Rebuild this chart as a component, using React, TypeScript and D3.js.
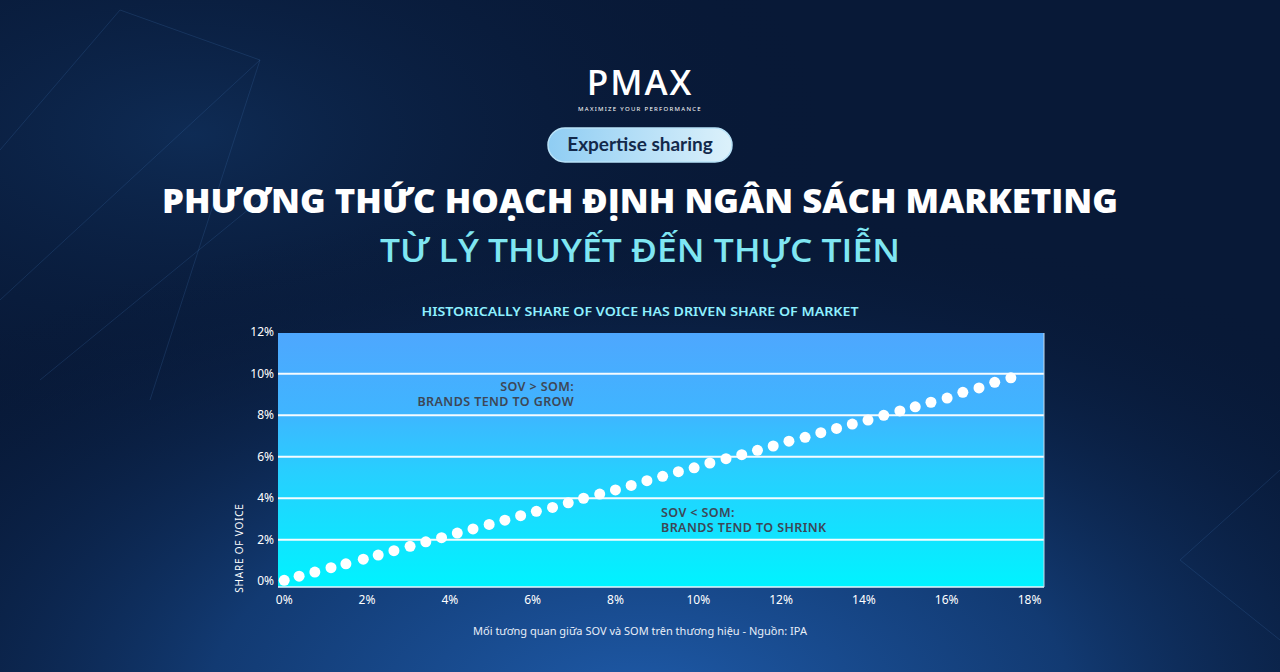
import React from "react";
import * as d3 from "d3";

// share of market (x, %) and share of voice (y, %)
const marketShare = [
  0, 0.36, 0.74, 1.13, 1.49, 1.91, 2.27, 2.65, 3.04, 3.42, 3.8, 4.18, 4.56, 4.95, 5.33, 5.71,
  6.09, 6.48, 6.86, 7.23, 7.62, 8.0, 8.38, 8.76, 9.14, 9.52, 9.9, 10.28, 10.67, 11.05, 11.43,
  11.81, 12.19, 12.58, 12.96, 13.34, 13.72, 14.1, 14.48, 14.87, 15.24, 15.62, 16.01, 16.39,
  16.78, 17.16, 17.55,
];
const voiceShare = [
  0.04, 0.24, 0.44, 0.65, 0.84, 1.06, 1.26, 1.47, 1.68, 1.9, 2.1, 2.32, 2.52, 2.74, 2.94, 3.16,
  3.37, 3.56, 3.78, 4.0, 4.2, 4.4, 4.62, 4.85, 5.06, 5.28, 5.47, 5.7, 5.91, 6.1, 6.31, 6.52,
  6.75, 6.94, 7.16, 7.37, 7.58, 7.77, 8.0, 8.21, 8.41, 8.63, 8.83, 9.11, 9.32, 9.59, 9.81,
];
const xTicks = [0, 2, 4, 6, 8, 10, 12, 14, 16, 18];
const yTicks = [0, 2, 4, 6, 8, 10, 12];
const gridValues = [2, 4, 6, 8, 10];

const W = 1280;
const H = 672;
const plot = { left: 278, right: 1044, top: 333, bottom: 587 };

const App: React.FC = () => {
  const x = d3.scaleLinear().domain([-0.15, 18.35]).range([plot.left, plot.right]);
  const y = d3.scaleLinear().domain([-0.28, 11.97]).range([plot.bottom, plot.top]);
  const fmt = (v: number) => `${v}%`;

  const points = marketShare.map((m, i) => ({ m, v: voiceShare[i] }));

  return (
    <svg
      width={W}
      height={H}
      style={{ position: "absolute", left: 0, top: 0, display: "block" }}
      fontFamily="'Noto Sans', sans-serif"
    >
      <defs>
        <radialGradient id="bgGlow" cx="0.5" cy="1.05" r="0.75">
          <stop offset="0" stopColor="#1e5aa8" />
          <stop offset="0.45" stopColor="#123a72" />
          <stop offset="1" stopColor="#071633" stopOpacity="0" />
        </radialGradient>
        <radialGradient id="topGlow" cx="0.15" cy="0.2" r="0.5">
          <stop offset="0" stopColor="#10305c" stopOpacity="0.8" />
          <stop offset="1" stopColor="#071633" stopOpacity="0" />
        </radialGradient>
        <linearGradient id="plotFill" x1="0" y1="0" x2="0" y2="1">
          <stop offset="0" stopColor="#4ea7fe" />
          <stop offset="0.3" stopColor="#40b4ff" />
          <stop offset="0.55" stopColor="#27cfff" />
          <stop offset="1" stopColor="#00f3ff" />
        </linearGradient>
        <linearGradient id="badgeFill" x1="0" y1="0" x2="1" y2="0">
          <stop offset="0" stopColor="#8fcdf3" />
          <stop offset="1" stopColor="#dcf1fb" />
        </linearGradient>
      </defs>

      {/* background */}
      <rect width={W} height={H} fill="#081937" />
      <rect width={W} height={H} fill="url(#topGlow)" />
      <rect width={W} height={H} fill="url(#bgGlow)" />
      <g stroke="#3a6aa8" strokeOpacity={0.25} strokeWidth={1}>
        <line x1={0} y1={150} x2={120} y2={10} />
        <line x1={120} y1={10} x2={260} y2={60} />
        <line x1={260} y1={60} x2={150} y2={400} />
        <line x1={0} y1={300} x2={260} y2={60} />
        <line x1={40} y1={380} x2={260} y2={200} />
        <line x1={1280} y1={470} x2={1180} y2={560} />
        <line x1={1180} y1={560} x2={1280} y2={640} />
      </g>

      {/* logo */}
      <text x={640} y={95} textAnchor="middle" fill="#ffffff" fontSize={35} fontWeight={600}
        fontFamily="'Open Sans', sans-serif" letterSpacing={2}>
        PMAX
      </text>
      <text x={640} y={111} textAnchor="middle" fill="#ffffff" fontSize={6} letterSpacing={1.3}>
        MAXIMIZE YOUR PERFORMANCE
      </text>

      {/* badge */}
      <rect x={548} y={128} width={184} height={34} rx={17} fill="url(#badgeFill)" stroke="#b8e2f8" strokeWidth={1.5} />
      <text x={640} y={151} textAnchor="middle" fill="#13294b" fontSize={19} fontWeight={700}
        fontFamily="Lato, sans-serif">
        Expertise sharing
      </text>

      {/* title */}
      <text x={640} y={213} textAnchor="middle" fill="#ffffff" fontSize={33} fontWeight={800}
        fontFamily="'Open Sans', sans-serif" textLength={956} lengthAdjust="spacingAndGlyphs">
        PHƯƠNG THỨC HOẠCH ĐỊNH NGÂN SÁCH MARKETING
      </text>
      <text x={640} y={262} textAnchor="middle" fill="#7fe6f2" fontSize={33} fontWeight={600}
        fontFamily="'Open Sans', sans-serif" textLength={520} lengthAdjust="spacingAndGlyphs">
        TỪ LÝ THUYẾT ĐẾN THỰC TIỄN
      </text>

      {/* chart title */}
      <text x={640} y={316} textAnchor="middle" fill="#8ef0ff" fontSize={13} fontWeight={600}
        textLength={437} lengthAdjust="spacingAndGlyphs">
        HISTORICALLY SHARE OF VOICE HAS DRIVEN SHARE OF MARKET
      </text>

      {/* plot */}
      <rect x={plot.left} y={plot.top} width={plot.right - plot.left} height={plot.bottom - plot.top}
        fill="url(#plotFill)" />
      {gridValues.map((g) => (
        <line key={g} x1={plot.left} x2={plot.right} y1={y(g)} y2={y(g)} stroke="#ffffff" strokeWidth={2} strokeOpacity={0.95} />
      ))}
      <line x1={plot.left} x2={plot.right} y1={plot.bottom} y2={plot.bottom} stroke="#e6f4fb" strokeWidth={1.5} />
      <line x1={plot.right} x2={plot.right} y1={plot.top} y2={plot.bottom} stroke="#c9d9e6" strokeWidth={1} />

      {/* annotations */}
      <g fill="#3d4756" fontSize={12.5} fontWeight={600} letterSpacing={0.4}>
        <text x={x(7)} y={y(9.35) + 4} textAnchor="end">SOV &gt; SOM:</text>
        <text x={x(7)} y={y(8.65) + 4} textAnchor="end">BRANDS TEND TO GROW</text>
        <text x={x(9.1)} y={y(3.3) + 4}>SOV &lt; SOM:</text>
        <text x={x(9.1)} y={y(2.58) + 4}>BRANDS TEND TO SHRINK</text>
      </g>

      {/* dots */}
      {points.map((p, i) => (
        <circle key={i} cx={x(p.m)} cy={y(p.v)} r={5.5} fill="#ffffff" />
      ))}

      {/* axes */}
      <g fill="#ffffff" fontSize={12}>
        {yTicks.map((t) => (
          <text key={t} x={plot.left - 4} y={y(t) + 4} textAnchor="end">{fmt(t)}</text>
        ))}
        {xTicks.map((t) => (
          <text key={t} x={x(t)} y={604} textAnchor="middle">{fmt(t)}</text>
        ))}
      </g>
      <text transform={`translate(243, ${y(1.6)}) rotate(-90)`} textAnchor="middle" fill="#ffffff"
        fontSize={10} letterSpacing={0.8}>
        SHARE OF VOICE
      </text>

      {/* caption */}
      <text x={640} y={635} textAnchor="middle" fill="#e8eef8" fontSize={11}>
        Mối tương quan giữa SOV và SOM trên thương hiệu - Nguồn: IPA
      </text>
    </svg>
  );
};

export default App;
